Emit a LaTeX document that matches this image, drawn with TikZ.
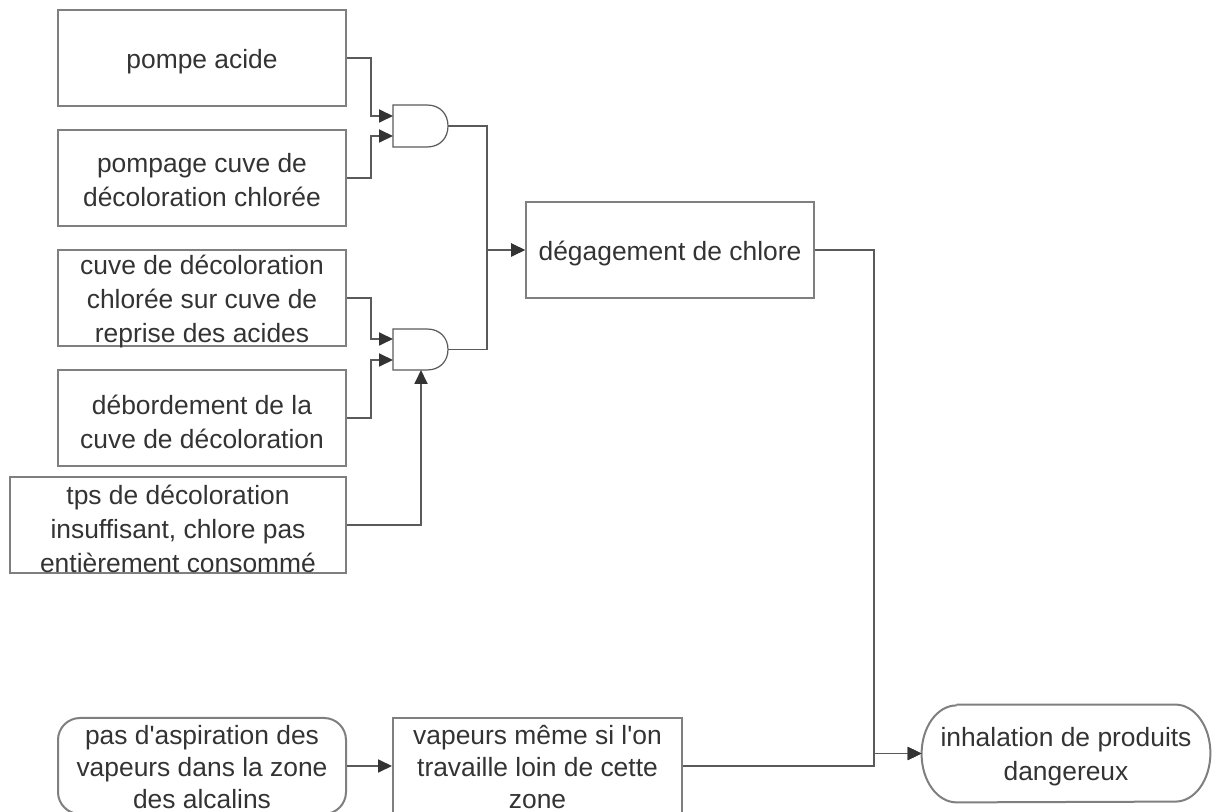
\documentclass[tikz,border=0pt]{standalone}
\usepackage{fontspec}
\setmainfont{Liberation Sans}[Ligatures=TeXOff]
\usetikzlibrary{arrows.meta,calc}
\definecolor{boxgray}{HTML}{7F7F7F}
\definecolor{linegray}{HTML}{5A5A5A}
\definecolor{txt}{HTML}{333333}
\begin{document}
\begin{tikzpicture}[x=0.5pt,y=-0.5pt,
  evbox/.style={draw=boxgray, line width=1pt, minimum width=144pt, minimum height=48pt, inner sep=0pt},
  lbl/.style={font=\fontsize{13.2}{17}\selectfont, text=txt, align=center, inner sep=0pt},
  tight/.style={font=\fontsize{13.2}{16}\selectfont},
  conn/.style={draw=linegray, line width=0.9pt},
  arr/.style={conn, -{Triangle[length=7pt,width=6.5pt,color=txt]}},
  gate/.style={draw=linegray, line width=0.6pt, fill=white}]
\useasboundingbox (0,0) rectangle (1212,812);

% event boxes
\node[evbox] (b1) at (202,58) {};
\node[evbox] (b2) at (202,178) {};
\node[evbox] (b3) at (202,298) {};
\node[evbox] (b4) at (202,418) {};
\node[evbox, minimum width=168pt] (b5) at (178,525) {};
\node[evbox] (b6) at (670,250) {};
\node[evbox, rounded corners=11pt] (pas) at (202,766) {};
\node[evbox, minimum width=144.5pt] (vap) at (537.5,766) {};
\node[minimum width=144pt, minimum height=48.5pt, inner sep=0pt] (inhal) at (1066,753.5) {};
\draw[draw=boxgray, line width=1pt]
  ($(inhal.north west)+(35,0)$) -- ($(inhal.north east)+(-35,0)$)
  arc[start angle=90, end angle=-90, x radius=17.5pt, y radius=24.25pt]
  -- ($(inhal.south west)+(35,0)$)
  arc[start angle=270, end angle=90, x radius=17.5pt, y radius=24.25pt];

% texts
\node[lbl] (t1) at ($(b1)+(0,4)$) {pompe acide};
\node[lbl] (t2) at ($(b2)+(0,2)$) {pompage cuve de\\décoloration chlorée};
\node[lbl] (t3) at ($(b3)+(0,4)$) {cuve de décoloration\\chlorée sur cuve de\\reprise des acides};
\node[lbl] (t4) at ($(b4)+(0,4)$) {débordement de la\\cuve de décoloration};
\node[lbl] (t5) at ($(b5)+(0,4)$) {tps de décoloration\\insuffisant, chlore pas\\entièrement consommé};
\node[lbl] (t6) at ($(b6)+(0,4)$) {dégagement de chlore};
\node[lbl, tight] (tp) at ($(pas)+(0,1)$) {pas d'aspiration des\\vapeurs dans la zone\\des alcalins};
\node[lbl, tight] (tv) at ($(vap)+(0,1)$) {vapeurs même si l'on\\travaille loin de cette\\zone};
\node[lbl] (ti) at ($(inhal)+(0,3)$) {inhalation de produits\\dangereux};

% AND gates
\draw[gate] (393,105) -- (427,105) .. controls (440,105) and (448,114) .. (448,126)
  .. controls (448,138) and (440,147) .. (427,147) -- (393,147) -- cycle;
\draw[gate] (393,329) -- (427,329) .. controls (440,329) and (448,338) .. (448,349.5)
  .. controls (448,361) and (440,370) .. (427,370) -- (393,370) -- cycle;
\coordinate (g1a) at (393,116);
\coordinate (g1b) at (393,136);
\coordinate (g1o) at (448,126);
\coordinate (g2a) at (393,339);
\coordinate (g2b) at (393,360);
\coordinate (g2c) at (421,370);
\coordinate (g2o) at (448,349.5);
\coordinate (j) at (874,250);

% connectors
\draw[arr] (b1.east) -- ++(24,0) |- (g1a);
\draw[arr] (b2.east) -- ++(24,0) |- (g1b);
\draw[arr] (b3.east) -- ++(24,0) |- (g2a);
\draw[arr] (b4.east) -- ++(24,0) |- (g2b);
\draw[arr] (b5.east) -| (g2c);
\draw[arr] (g1o) -- ++(39,0) |- (b6.west);
\draw[arr] (g2o) -- ++(39,0) |- (b6.west);
\draw[arr] (b6.east) -- (j) |- (inhal.west);
\draw[arr] (pas.east) -- (vap.west);
\draw[arr] (vap.east) -- (vap.east -| j) |- (inhal.west);
\end{tikzpicture}
\end{document}
